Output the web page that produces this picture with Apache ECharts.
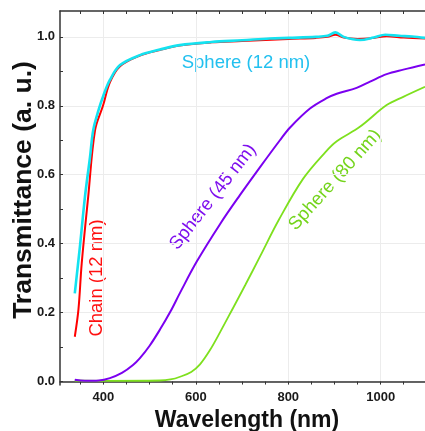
<!DOCTYPE html>
<html>
<head>
<meta charset="utf-8">
<script src="https://cdn.jsdelivr.net/npm/echarts@6/dist/echarts.min.js"></script>
<style>
html, body { margin: 0; padding: 0; background: #fff; }
#main { width: 425px; height: 431px; }
</style>
</head>
<body>
<div id="main"></div>
<script>
// axis ticks
var xTicks = [400, 600, 800, 1000];
var xMinorTicks = [350, 450, 500, 550, 650, 700, 750, 850, 900, 950, 1050];
var yTicks = [0, 0.2, 0.4, 0.6, 0.8, 1.0];
var yMinorTicks = [0.1, 0.3, 0.5, 0.7, 0.9];

// [wavelength, transmittance]
var sphere12 = [
    [338, 0.256], [349, 0.39], [360, 0.536], [371, 0.652], [378, 0.73], [390, 0.79],
    [400, 0.83], [414, 0.875], [436, 0.918], [479, 0.947], [522, 0.963], [565, 0.976],
    [634, 0.985], [700, 0.99], [760, 0.995], [801, 0.997], [860, 1.0], [885, 1.003],
    [902, 1.013], [920, 1.0], [940, 0.993], [955, 0.991], [985, 0.998], [1010, 1.006],
    [1040, 1.003], [1068, 1.001], [1096, 0.997]
];
var chain12 = [
    [338, 0.13], [346, 0.21], [353, 0.343], [367, 0.536], [382, 0.73], [399, 0.80],
    [414, 0.868], [436, 0.915], [479, 0.946], [522, 0.962], [565, 0.975], [634, 0.984],
    [700, 0.988], [801, 0.994], [860, 0.997], [885, 1.0], [902, 1.006], [920, 0.998],
    [950, 0.994], [985, 0.997], [1013, 1.002], [1050, 0.998], [1096, 0.995]
];
var sphere45 = [
    [338, 0.005], [360, 0.002], [390, 0.003], [414, 0.01], [440, 0.025], [464, 0.048],
    [479, 0.068], [500, 0.104], [522, 0.15], [545, 0.203], [566, 0.258], [602, 0.348],
    [653, 0.458], [695, 0.54], [739, 0.622], [782, 0.70], [804, 0.737], [847, 0.792],
    [883, 0.822], [905, 0.835], [948, 0.852], [977, 0.87], [1013, 0.892], [1049, 0.905],
    [1096, 0.92]
];
var sphere80 = [
    [338, 0.003], [400, 0.002], [522, 0.003], [545, 0.006], [566, 0.014], [590, 0.028],
    [609, 0.05], [630, 0.09], [652, 0.142], [680, 0.212], [707, 0.28], [739, 0.363],
    [780, 0.47], [832, 0.588], [880, 0.665], [905, 0.697], [955, 0.739], [1013, 0.802],
    [1049, 0.826], [1096, 0.855]
];

class Spectra {
    constructor() {
        this.myChart = echarts.init(document.getElementById('main'));
        this.renderDom();
    }

    line(data, color, width) {
        return {
            type: 'line',
            data: data,
            showSymbol: false,
            smooth: 0.35,
            lineStyle: { color: color, width: width },
            silent: true
        };
    }

    renderDom() {
        var tickStyle = { color: '#333', width: 1 };
        this.option = {
            animation: false,
            grid: { left: 60, right: 0, top: 11, bottom: 46 },
            xAxis: [
                {
                    type: 'value', min: 306, max: 1096, position: 'bottom',
                    axisLine: { show: true, lineStyle: { color: '#333', width: 1.5 } },
                    axisTick: { show: true, inside: false, length: 3, customValues: xTicks, lineStyle: tickStyle },
                    axisLabel: {
                        customValues: xTicks, margin: 6, color: '#1a1a1a',
                        fontWeight: 'bold', fontSize: 13, fontFamily: 'Liberation Sans',
                        formatter: function (v) { return String(v); }
                    },
                    splitLine: { show: true, lineStyle: { color: '#ececec', width: 1 } }
                },
                {
                    // minor ticks bottom
                    type: 'value', min: 306, max: 1096, position: 'bottom',
                    axisLine: { show: false },
                    axisTick: { show: true, inside: false, length: 3, customValues: xMinorTicks, lineStyle: tickStyle },
                    axisLabel: { show: false },
                    splitLine: { show: false }
                },
                {
                    // top frame
                    type: 'value', min: 306, max: 1096, position: 'top',
                    axisLine: { show: true, lineStyle: { color: '#333', width: 1.5 } },
                    axisTick: { show: true, inside: true, length: 3, customValues: xTicks.concat(xMinorTicks), lineStyle: tickStyle },
                    axisLabel: { show: false },
                    splitLine: { show: false }
                }
            ],
            yAxis: [
                {
                    type: 'value', min: -0.01, max: 1.075, position: 'left',
                    axisLine: { show: true, lineStyle: { color: '#333', width: 1.5 } },
                    axisTick: { show: true, inside: true, length: 3, customValues: yTicks, lineStyle: tickStyle },
                    axisLabel: {
                        customValues: yTicks, margin: 5, color: '#1a1a1a',
                        fontWeight: 'bold', fontSize: 13, fontFamily: 'Liberation Sans',
                        formatter: function (v) { return v.toFixed(1); }
                    },
                    splitLine: { show: true, lineStyle: { color: '#ececec', width: 1 } }
                },
                {
                    // minor ticks left
                    type: 'value', min: -0.01, max: 1.075, position: 'left',
                    axisLine: { show: false },
                    axisTick: { show: true, inside: true, length: 3, customValues: yMinorTicks, lineStyle: tickStyle },
                    axisLabel: { show: false },
                    splitLine: { show: false }
                }
            ],
            series: [
                this.line(sphere80, '#7ee01e', 1.8),
                this.line(sphere45, '#7b00f0', 2),
                this.line(chain12, '#ff0000', 2),
                this.line(sphere12, '#14e2f0', 2.6)
            ],
            graphic: [
                {
                    type: 'text', x: 247, y: 421,
                    style: { text: 'Wavelength (nm)', font: 'bold 23px "Liberation Sans", Arial, sans-serif', fill: '#111', align: 'center', verticalAlign: 'middle' }
                },
                {
                    type: 'text', x: 24, y: 190, rotation: Math.PI / 2,
                    style: { text: 'Transmittance (a. u.)', font: 'bold 26.5px "Liberation Sans", Arial, sans-serif', fill: '#111', align: 'center', verticalAlign: 'middle' }
                },
                {
                    type: 'text', x: 246, y: 63,
                    style: { text: 'Sphere (12 nm)', font: '18.5px "Liberation Sans", Arial, sans-serif', fill: '#22c0ef', align: 'center', verticalAlign: 'middle' }
                },
                {
                    type: 'text', x: 97, y: 278, rotation: Math.PI / 2,
                    style: { text: 'Chain (12 nm)', font: '18.5px "Liberation Sans", Arial, sans-serif', fill: '#ff1010', align: 'center', verticalAlign: 'middle' }
                },
                {
                    type: 'text', x: 213, y: 197, rotation: 52 * Math.PI / 180,
                    style: { text: 'Sphere (45 nm)', font: '18.5px "Liberation Sans", Arial, sans-serif', fill: '#7f10ee', align: 'center', verticalAlign: 'middle' }
                },
                {
                    type: 'text', x: 335, y: 180, rotation: 48 * Math.PI / 180,
                    style: { text: 'Sphere (80 nm)', font: '18.5px "Liberation Sans", Arial, sans-serif', fill: '#74d41c', align: 'center', verticalAlign: 'middle' }
                }
            ]
        };
        this.myChart.setOption(this.option);
    }
}

new Spectra();
</script>
</body>
</html>
